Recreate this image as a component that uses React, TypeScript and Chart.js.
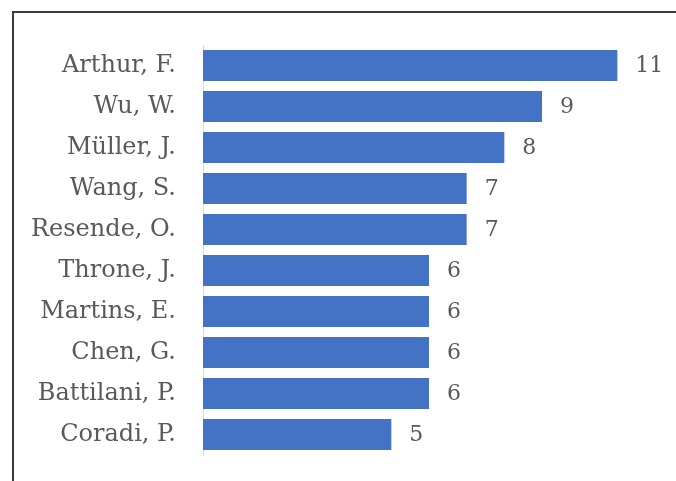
import React, { useEffect, useRef } from "react";
import { Chart, registerables } from "chart.js";

Chart.register(...registerables);

const authors = [
  "Arthur, F.",
  "Wu, W.",
  "Müller, J.",
  "Wang, S.",
  "Resende, O.",
  "Throne, J.",
  "Martins, E.",
  "Chen, G.",
  "Battilani, P.",
  "Coradi, P.",
];
const counts = [11, 9, 8, 7, 7, 6, 6, 6, 6, 5];

const FONT = "'DejaVu Serif', serif";
const TEXT = "#595959";

const valueLabels = {
  id: "valueLabels",
  afterDatasetsDraw(chart: any) {
    const ctx = chart.ctx;
    const meta = chart.getDatasetMeta(0);
    ctx.save();
    ctx.font = `22px ${FONT}`;
    ctx.fillStyle = TEXT;
    ctx.textAlign = "left";
    ctx.textBaseline = "middle";
    meta.data.forEach((bar: any, i: number) => {
      ctx.fillText(String(counts[i]), bar.x + 18, bar.y + 1);
    });
    ctx.restore();
  },
};

export default function App() {
  const ref = useRef<HTMLCanvasElement>(null);
  useEffect(() => {
    document.body.style.margin = "0";
    const chart = new Chart(ref.current!, {
      type: "bar",
      data: {
        labels: authors,
        datasets: [
          {
            data: counts,
            backgroundColor: "#4472C4",
            borderWidth: 0,
            categoryPercentage: 1,
            barPercentage: 0.76,
          },
        ],
      },
      options: {
        indexAxis: "y",
        animation: false,
        responsive: false,
        layout: { padding: { top: 45, bottom: 26, left: 0, right: 21 } },
        plugins: { legend: { display: false }, tooltip: { enabled: false } },
        scales: {
          x: { display: false, min: 0, max: 12 },
          y: {
            afterFit(scale: any) {
              scale.width = 203;
              scale.paddingTop = 0;
              scale.paddingBottom = 0;
            },
            grid: { display: false, drawTicks: false },
            border: { display: true, color: "#d9d9d9", width: 1 },
            ticks: {
              padding: 27,
              color: TEXT,
              font: { family: FONT, size: 24 },
            },
          },
        },
      },
      plugins: [valueLabels],
    });
    return () => chart.destroy();
  }, []);
  return (
    <div style={{ position: "relative", width: 676, height: 481, overflow: "hidden", background: "#fff" }}>
      <div
        style={{
          position: "absolute",
          left: 12,
          top: 11,
          width: 700,
          height: 500,
          border: "2px solid #3a3a3a",
        }}
      />
      <canvas ref={ref} width={676} height={481} style={{ position: "absolute", left: 0, top: 0 }} />
    </div>
  );
}
